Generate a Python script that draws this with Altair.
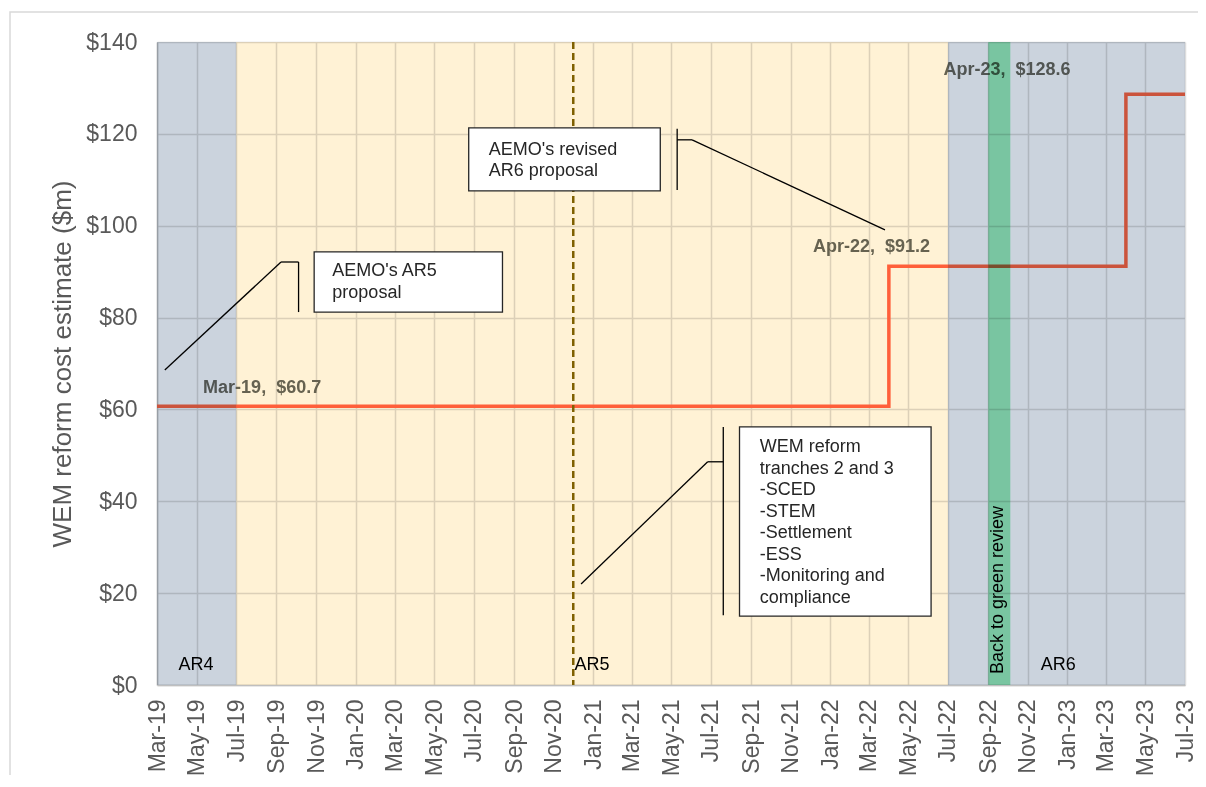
import altair as alt
import pandas as pd

# ---------------- data ----------------
dates = ["2019-03-01", "2022-04-01", "2023-04-01", "2023-07-01"]
costs = [60.7, 91.2, 128.6, 128.6]

period_names = ["AR4", "AR5", "AR6"]
period_starts = ["2019-03-01", "2019-07-01", "2022-07-01"]
period_ends = ["2019-07-01", "2022-07-01", "2023-07-01"]
period_colors = ["#CBD3DD", "#FFF2D5", "#CBD3DD"]
period_label_dates = ["2019-04-03", "2020-12-03", "2022-11-21"]
period_label_value = [4.35, 4.35, 4.35]

review_start = ["2022-09-01"]
review_end = ["2022-10-05"]
review_label = ["Back to green review"]
review_label_date = ["2022-09-16"]
review_label_value = [2.4]

ar5_split = ["2020-12-01"]

tick_dates = [
    "2019-03-01", "2019-05-01", "2019-07-01", "2019-09-01", "2019-11-01",
    "2020-01-01", "2020-03-01", "2020-05-01", "2020-07-01", "2020-09-01", "2020-11-01",
    "2021-01-01", "2021-03-01", "2021-05-01", "2021-07-01", "2021-09-01", "2021-11-01",
    "2022-01-01", "2022-03-01", "2022-05-01", "2022-07-01", "2022-09-01", "2022-11-01",
    "2023-01-01", "2023-03-01", "2023-05-01", "2023-07-01",
]
y_ticks = [0, 20, 40, 60, 80, 100, 120, 140]

value_label_text = ["Mar-19,\u00a0 $60.7", "Apr-22,\u00a0 $91.2", "Apr-23,\u00a0 $128.6"]
value_label_date = ["2019-05-11", "2021-12-05", "2022-06-24"]
value_label_value = [64.7, 95.4, 133.9]

# callout boxes
box_x = ["2019-10-29", "2020-06-23", "2021-08-14"]
box_x2 = ["2020-08-14", "2021-04-14", "2022-06-05"]
box_y = [94.3, 121.3, 56.2]
box_y2 = [81.2, 107.6, 15.0]
box_text = [
    "AEMO's AR5\nproposal",
    "AEMO's revised\nAR6 proposal",
    "WEM reform\ntranches 2 and 3\n-SCED\n-STEM\n-Settlement\n-ESS\n-Monitoring and\ncompliance",
]
box_text_x = ["2019-11-26", "2020-07-24", "2021-09-14"]
box_text_y = [92.0, 118.5, 53.7]

# callout leader segments
seg_x = ["2019-03-13", "2019-09-08", "2019-10-05",
         "2021-05-10", "2021-05-10", "2021-06-02",
         "2021-07-20", "2021-07-20", "2021-06-26"]
seg_y = [68.6, 92.1, 92.1,
         121.1, 118.7, 118.7,
         56.2, 48.6, 48.6]
seg_x2 = ["2019-09-08", "2019-10-05", "2019-10-05",
          "2021-05-10", "2021-06-02", "2022-03-26",
          "2021-07-20", "2021-06-26", "2020-12-13"]
seg_y2 = [92.1, 92.1, 81.2,
          107.8, 118.7, 99.1,
          15.2, 48.6, 22.0]

# ---------------- helpers ----------------
def ms(s):
    return int(pd.Timestamp(s, tz="UTC").value // 10**6)

FONT = "Liberation Sans"
W, H = 1028, 643

xscale = alt.Scale(type="utc", domain=[ms(tick_dates[0]), ms(tick_dates[-1])])
yscale = alt.Scale(domain=[0, 140])

x_axis = alt.Axis(
    values=[ms(s) for s in tick_dates],
    labelExpr="utcFormat(datum.value, '%b-%y')",
    labelAngle=270, labelAlign="right", labelBaseline="middle",
    labelFontSize=23, labelColor="#595959", labelPadding=14, labelOverlap=False,
    ticks=False, grid=True, gridColor="#DCDCDC", gridWidth=1.5,
    domainColor="#BFBFBF", domainWidth=1.5, title="",
)
y_axis = alt.Axis(
    values=y_ticks, format="$.0f", labelFontSize=23, labelColor="#595959",
    labelPadding=20, ticks=False, grid=True, gridColor="#DCDCDC", gridWidth=1.5,
    domainColor="#BFBFBF", domainWidth=1.5,
    title="WEM reform cost estimate ($m)", titleFontSize=26, titleColor="#595959",
    titleFontWeight="normal", titlePadding=10,
)


def X(field):
    return alt.X(field, scale=xscale, axis=x_axis)


def Y(field):
    return alt.Y(field, scale=yscale, axis=y_axis)


line_df = pd.DataFrame({"date": dates, "cost": costs})
period_df = pd.DataFrame({"name": period_names, "start": period_starts, "end": period_ends,
                          "color": period_colors, "lx": period_label_dates, "ly": period_label_value})
review_df = pd.DataFrame({"start": review_start, "end": review_end, "label": review_label,
                          "lx": review_label_date, "ly": review_label_value})
split_df = pd.DataFrame({"date": ar5_split})
vlab_df = pd.DataFrame({"text": value_label_text, "date": value_label_date, "v": value_label_value})
box_df = pd.DataFrame({"x": box_x, "x2": box_x2, "y": box_y, "y2": box_y2,
                       "text": box_text, "tx": box_text_x, "ty": box_text_y})
seg_df = pd.DataFrame({"x": seg_x, "y": seg_y, "x2": seg_x2, "y2": seg_y2})

line = alt.Chart(line_df).mark_line(
    interpolate="step-after", color="#FF6445", strokeWidth=3.5, strokeCap="butt"
).encode(x=X("date:T"), y=Y("cost:Q"))

frame = alt.Chart(pd.DataFrame({"a": [0]})).mark_rect(
    fill="transparent", stroke="#D9D9D9", strokeWidth=1.5
).encode(x=alt.value(-147), x2=alt.value(1070), y=alt.value(-30), y2=alt.value(820))

vlabels = alt.Chart(vlab_df).mark_text(
    align="left", baseline="middle", fontSize=18, fontWeight="bold", color="#66675F"
).encode(x=X("date:T"), y=Y("v:Q"), text="text:N")

bands = alt.Chart(period_df).mark_rect(blend="multiply").encode(
    x=X("start:T"), x2="end:T",
    y=alt.datum(0, scale=yscale, axis=y_axis), y2=alt.datum(140),
    color=alt.Color("color:N", scale=None),
)

review = alt.Chart(review_df).mark_rect(blend="multiply", color="#98EEBA").encode(
    x=X("start:T"), x2="end:T",
    y=alt.datum(0, scale=yscale, axis=y_axis), y2=alt.datum(140),
)

split = alt.Chart(split_df).mark_rule(
    color="#7F6000", strokeWidth=2.5, strokeDash=[7, 4]
).encode(x=X("date:T"))

period_text = alt.Chart(period_df).mark_text(
    align="left", baseline="middle", fontSize=18, color="#000000"
).encode(x=X("lx:T"), y=Y("ly:Q"), text="name:N")

review_text = alt.Chart(review_df).mark_text(
    align="left", baseline="middle", angle=270, fontSize=18, color="#000000"
).encode(x=X("lx:T"), y=Y("ly:Q"), text="label:N")

leaders = alt.Chart(seg_df).mark_rule(color="#000000", strokeWidth=1.3).encode(
    x=X("x:T"), y=Y("y:Q"), x2="x2:T", y2="y2:Q"
)

boxes = alt.Chart(box_df).mark_rect(
    fill="#FFFFFF", stroke="#262626", strokeWidth=1.3
).encode(x=X("x:T"), x2="x2:T", y=Y("y:Q"), y2="y2:Q")

box_texts = alt.Chart(box_df).mark_text(
    align="left", baseline="top", fontSize=18, lineBreak="\n", lineHeight=21.5,
    color="#262626"
).encode(x=X("tx:T"), y=Y("ty:Q"), text="text:N")

chart = alt.layer(
    line, frame, vlabels, bands, review, split, period_text, review_text,
    leaders, boxes, box_texts
).properties(
    width=W, height=H,
    autosize=alt.AutoSizeParams(type="none"),
    padding={"left": 149, "top": 34, "right": 13, "bottom": 90},
).configure(font=FONT).configure_view(strokeWidth=0)

chart.save("out.html", embed_options={"renderer": "svg", "actions": False})
